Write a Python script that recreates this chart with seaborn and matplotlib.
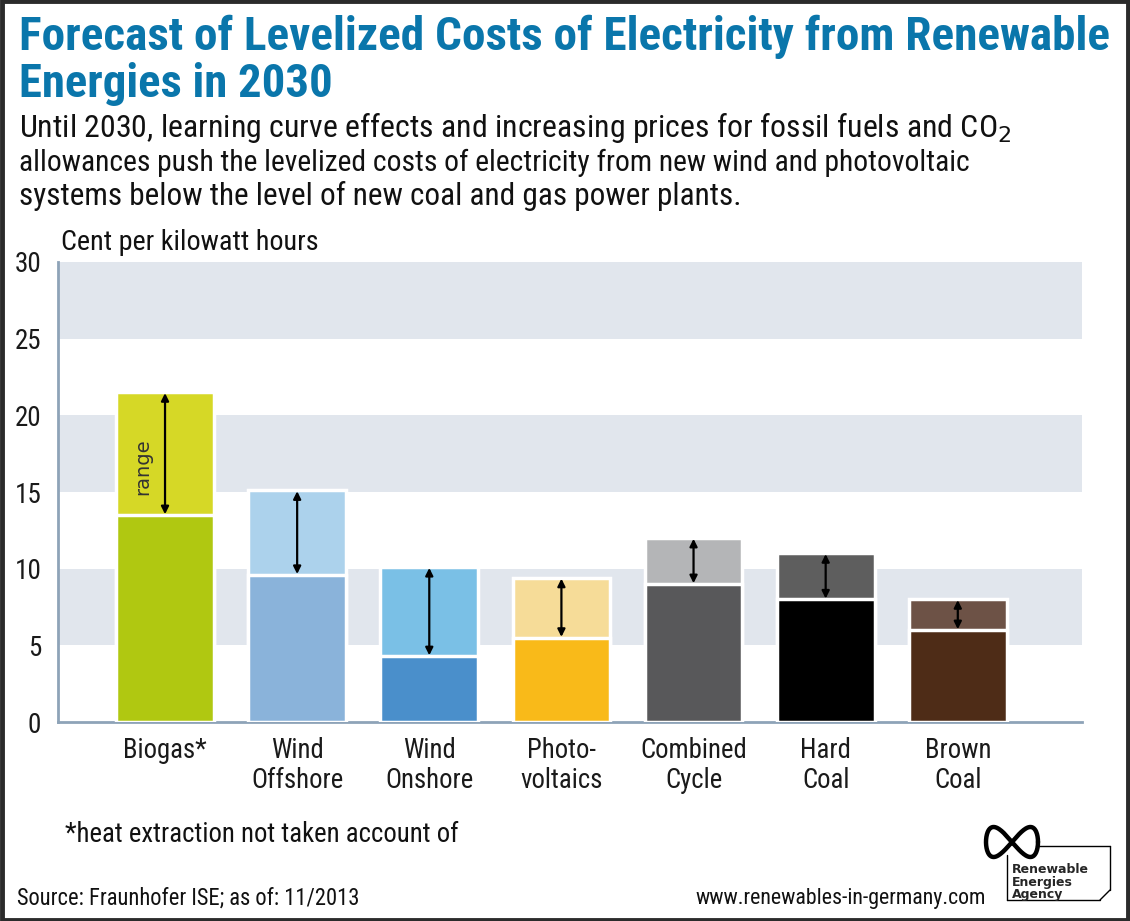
import matplotlib
matplotlib.use("Agg")
import matplotlib.pyplot as plt
from matplotlib import font_manager
from matplotlib.patches import Rectangle
from matplotlib.lines import Line2D
import numpy as np
import seaborn as sns
import pandas as pd

# ---------------- data ----------------
categories = ["Biogas*", "Wind\nOffshore", "Wind\nOnshore", "Photo-\nvoltaics",
              "Combined\nCycle", "Hard\nCoal", "Brown\nCoal"]
low_values = [13.5, 9.6, 4.3, 5.5, 9.0, 8.0, 6.0]
high_values = [21.5, 15.1, 10.1, 9.4, 12.0, 11.0, 8.0]
low_colors = ["#b0c811", "#8ab3da", "#4a8fcb", "#f9ba19", "#58585a", "#000000", "#4e2c17"]
high_colors = ["#d6d826", "#acd2ec", "#7ac0e6", "#f6dc98", "#b4b5b7", "#5e5e5e", "#6d5246"]
y_ticks = [0, 5, 10, 15, 20, 25, 30]

# ---------------- fonts ----------------
sns.set_theme(style="white")
names = {f.name for f in font_manager.fontManager.ttflist}
narrow_candidates = [n for n in ("Liberation Sans Narrow", "Roboto Condensed",
                                 "Open Sans Condensed", "DejaVu Sans") if n in names]
plt.rcParams["font.family"] = [narrow_candidates[0], "DejaVu Sans"]
if narrow_candidates[0] == "DejaVu Sans":
    plt.rcParams["font.stretch"] = "condensed"

W, H = 1130, 921
fig = plt.figure(figsize=(W / 100, H / 100), dpi=100)
fig.patch.set_facecolor("white")


def fx(px):
    return px / W


def fy(py):
    return 1 - py / H


ax = fig.add_axes([fx(58), fy(722), fx(1082) - fx(58), fy(262) - fy(722)])

df = pd.DataFrame({"cat": categories, "low": low_values, "high": high_values})

# background bands
for b in (5, 15, 25):
    ax.axhspan(b, b + 5, color="#e1e6ed", zorder=0, lw=0)

sns.barplot(data=df, x="cat", y="high", hue="cat", palette=high_colors,
            width=0.74, edgecolor="white", linewidth=2.5, legend=False, ax=ax,
            zorder=2, saturation=1)
sns.barplot(data=df, x="cat", y="low", hue="cat", palette=low_colors,
            width=0.74, edgecolor="white", linewidth=2.5, legend=False, ax=ax,
            zorder=3, saturation=1)

# range arrows
for i, (lo, hi) in enumerate(zip(low_values, high_values)):
    ax.annotate("", xy=(i, hi - 0.05), xytext=(i, lo + 0.05),
                arrowprops=dict(arrowstyle="<|-|>", color="black", lw=1.6,
                                mutation_scale=11, shrinkA=0, shrinkB=0),
                zorder=5)
ax.text(-0.167, (low_values[0] + high_values[0]) / 2 - 0.85, "range", rotation=90,
        ha="center", va="center", fontsize=14, color="#333333", zorder=6,
        family=["DejaVu Sans"], fontstretch="normal")

ax.set_xlim(-0.81, 6.94)
ax.set_ylim(0, 30)
ax.set_yticks(y_ticks)
ax.set_yticklabels([str(t) for t in y_ticks], fontsize=19.5, color="#1a1a1a")
ax.set_xticks(range(len(categories)))
ax.set_xticklabels(categories, fontsize=19, color="#1a1a1a", linespacing=1.15)
ax.tick_params(axis="y", length=0, pad=12)
ax.tick_params(axis="x", length=0, pad=11)
ax.set_xlabel("")
ax.set_ylabel("")
for s in ("top", "right"):
    ax.spines[s].set_visible(False)
for s in ("left", "bottom"):
    ax.spines[s].set_color("#8ea3b8")
    ax.spines[s].set_linewidth(2)
ax.set_facecolor("white")

# ---------------- texts ----------------
blue = "#0a76ab"
texts = []


def put(xpx, ypx, s, size, target_w, ha="left", **kw):
    t = fig.text(fx(xpx), fy(ypx), s, fontsize=size, va="baseline", ha=ha, **kw)
    texts.append((t, size, target_w))
    return t


put(19, 50, "Forecast of Levelized Costs of Electricity from Renewable", 33, 1095,
    fontweight="bold", color=blue)
put(19, 97, "Energies in 2030", 33, 314, fontweight="bold", color=blue)
put(19, 137, "Until 2030, learning curve effects and increasing prices for fossil fuels and CO$_2$",
    20.5, 994, color="#111111")
put(19, 171, "allowances push the levelized costs of electricity from new wind and photovoltaic",
    20.5, 953, color="#111111")
put(19, 205, "systems below the level of new coal and gas power plants.", 20.5, 723,
    color="#111111")
put(61, 250, "Cent per kilowatt hours", 17.5, 257, color="#111111")
put(65, 842, "*heat extraction not taken account of", 17, 393, color="#111111")
put(17, 905, "Source: Fraunhofer ISE; as of: 11/2013", 14.5, 343, color="#111111")
put(986, 904, "www.renewables-in-germany.com", 14.5, 290, ha="right", color="#111111")

fig.canvas.draw()
r = fig.canvas.get_renderer()
for t, size, tw in texts:
    w = t.get_window_extent(r).width
    t.set_fontsize(min(size * tw / w, size * 1.25))

# x tick labels: "Combined" about 107 px wide
fig.canvas.draw()
lab = ax.get_xticklabels()[4]
wl = lab.get_window_extent(r).width
newsize = min(19 * 107 / wl, 21)
for l in ax.get_xticklabels():
    l.set_fontsize(newsize)

# ---------------- logo ----------------
tt = np.linspace(0, 2 * np.pi, 200)
lx = 1012 + 26 * np.cos(tt)
ly = 842 + 15 * np.sin(2 * tt)
fig.add_artist(Line2D(fx(lx), fy(ly), color="black", lw=3.2,
                      transform=fig.transFigure))
for k, word in enumerate(["Renewable", "Energies", "Agency"]):
    fig.text(fx(1012), fy(873 + 12.5 * k), word, fontsize=9, fontweight="bold",
             va="baseline", ha="left", family=["DejaVu Sans"])
segs = [((1007, 855), (1007, 900)), ((1007, 900), (1100, 900)),
        ((1100, 900), (1110, 890)), ((1110, 890), (1110, 846)),
        ((1036, 846), (1110, 846))]
for (x0, y0), (x1, y1) in segs:
    fig.add_artist(Line2D([fx(x0), fx(x1)], [fy(y0), fy(y1)], color="black",
                          lw=1, transform=fig.transFigure))

# frame
fig.add_artist(Rectangle((0.0015, 0.0015), 0.997, 0.997, transform=fig.transFigure,
                         fill=False, edgecolor="#2b2b2b", lw=3.5))

fig.savefig("out.png", dpi=100, facecolor="white")
